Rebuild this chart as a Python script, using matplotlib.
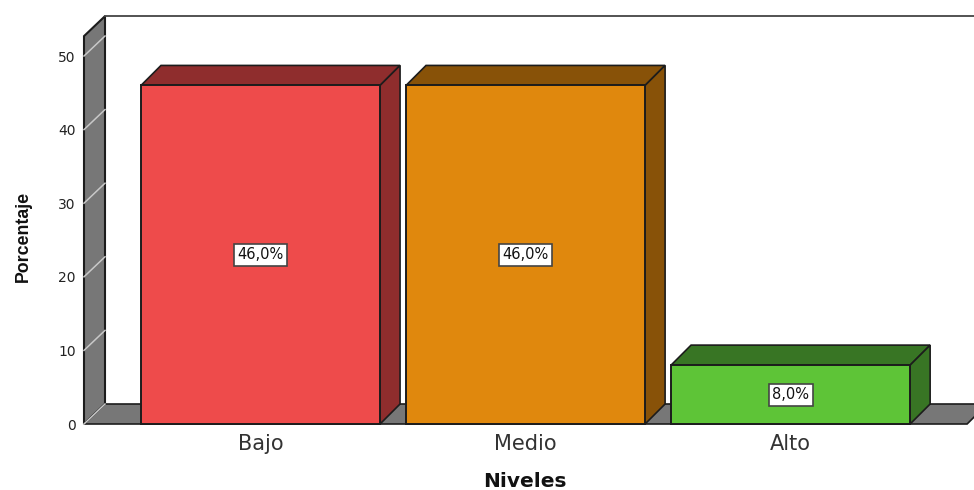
import matplotlib
matplotlib.use("Agg")
import matplotlib.pyplot as plt
from matplotlib.patches import Polygon

categories = ["Bajo", "Medio", "Alto"]
values = [46.0, 46.0, 8.0]
y_ticks = [0, 10, 20, 30, 40, 50]

face_colors = ["#EE4B4B", "#E0880D", "#5EC437"]
dark_colors = ["#8F2D2D", "#885208", "#387524"]
wall_color = "#777777"
edge = "#1C1C1C"

W, H = 974, 490
bar_w = 0.902
# depth of the fake 3d effect, in data units
dx = 21 / 265
bar_dx = 20 / 265
dy = 20 / 7.36
wall_top = 52.7

fig = plt.figure(figsize=(W / 100, H / 100), dpi=100)
ax = fig.add_axes([84 / W, (H - 424) / H, (974 - 84) / W, (424 - 56) / H])
ax.set_xlim(-0.666, 2.692)
ax.set_ylim(0, 50)
ax.patch.set_visible(False)
for s in ax.spines.values():
    s.set_visible(False)

x_left, x_right = ax.get_xlim()

# left wall and floor
ax.add_patch(Polygon([(x_left, 0), (x_left + dx, dy), (x_left + dx, wall_top + dy), (x_left, wall_top)],
                     closed=True, fc=wall_color, ec=edge, lw=1.5, clip_on=False, zorder=1))
ax.add_patch(Polygon([(x_left, 0), (x_left + dx, dy), (x_right + 0.05, dy), (x_right - 0.026, 0)],
                     closed=True, fc=wall_color, ec=edge, lw=1.2, clip_on=False, zorder=1))
# back edge on top
ax.plot([x_left + dx, x_right], [wall_top + dy, wall_top + dy], color="#444444", lw=1.3, clip_on=False, zorder=1)

# light gridlines across the wall
for t in y_ticks:
    ax.plot([x_left, x_left + dx], [t, t + dy], color="#C8C8C8", lw=1.1, clip_on=False, zorder=2)

# bars
xs = list(range(len(categories)))
ax.bar(xs, values, width=bar_w, color=face_colors, edgecolor=edge, linewidth=1.4, zorder=4, clip_on=False)
for x, v, dark in zip(xs, values, dark_colors):
    l = x - bar_w / 2
    r = x + bar_w / 2
    ax.add_patch(Polygon([(l, v), (l + bar_dx, v + dy), (r + bar_dx, v + dy), (r, v)],
                         closed=True, fc=dark, ec=edge, lw=1.2, clip_on=False, zorder=3))
    ax.add_patch(Polygon([(r, 0), (r + bar_dx, dy), (r + bar_dx, v + dy), (r, v)],
                         closed=True, fc=dark, ec=edge, lw=1.2, clip_on=False, zorder=3))
    ax.text(x, v / 2, f"{v:.1f}%".replace(".", ","), ha="center", va="center",
            fontsize=10.5, family="DejaVu Sans", color="#111111", zorder=6,
            bbox=dict(boxstyle="square,pad=0.24", fc="white", ec="#444444", lw=1.2))

ax.set_xticks(xs)
ax.set_xticklabels(categories, fontsize=15, family="DejaVu Sans", color="#333333")
ax.set_yticks(y_ticks)
ax.set_yticklabels([str(t) for t in y_ticks], fontsize=10, family="DejaVu Sans", color="#222222")
ax.tick_params(axis="both", length=0)
ax.tick_params(axis="x", pad=7)
ax.tick_params(axis="y", pad=6)

fig.text(525 / W, (H - 481) / H, "Niveles", ha="center", va="center",
         fontsize=14.5, fontweight="bold", family="DejaVu Sans", color="#111111")
fig.text(23 / W, (H - 236) / H, "Porcentaje", rotation=90, ha="center", va="center",
         fontsize=12.8, fontweight="bold", family="Liberation Sans", color="#111111")

fig.savefig("out.png", dpi=100, facecolor="white")
